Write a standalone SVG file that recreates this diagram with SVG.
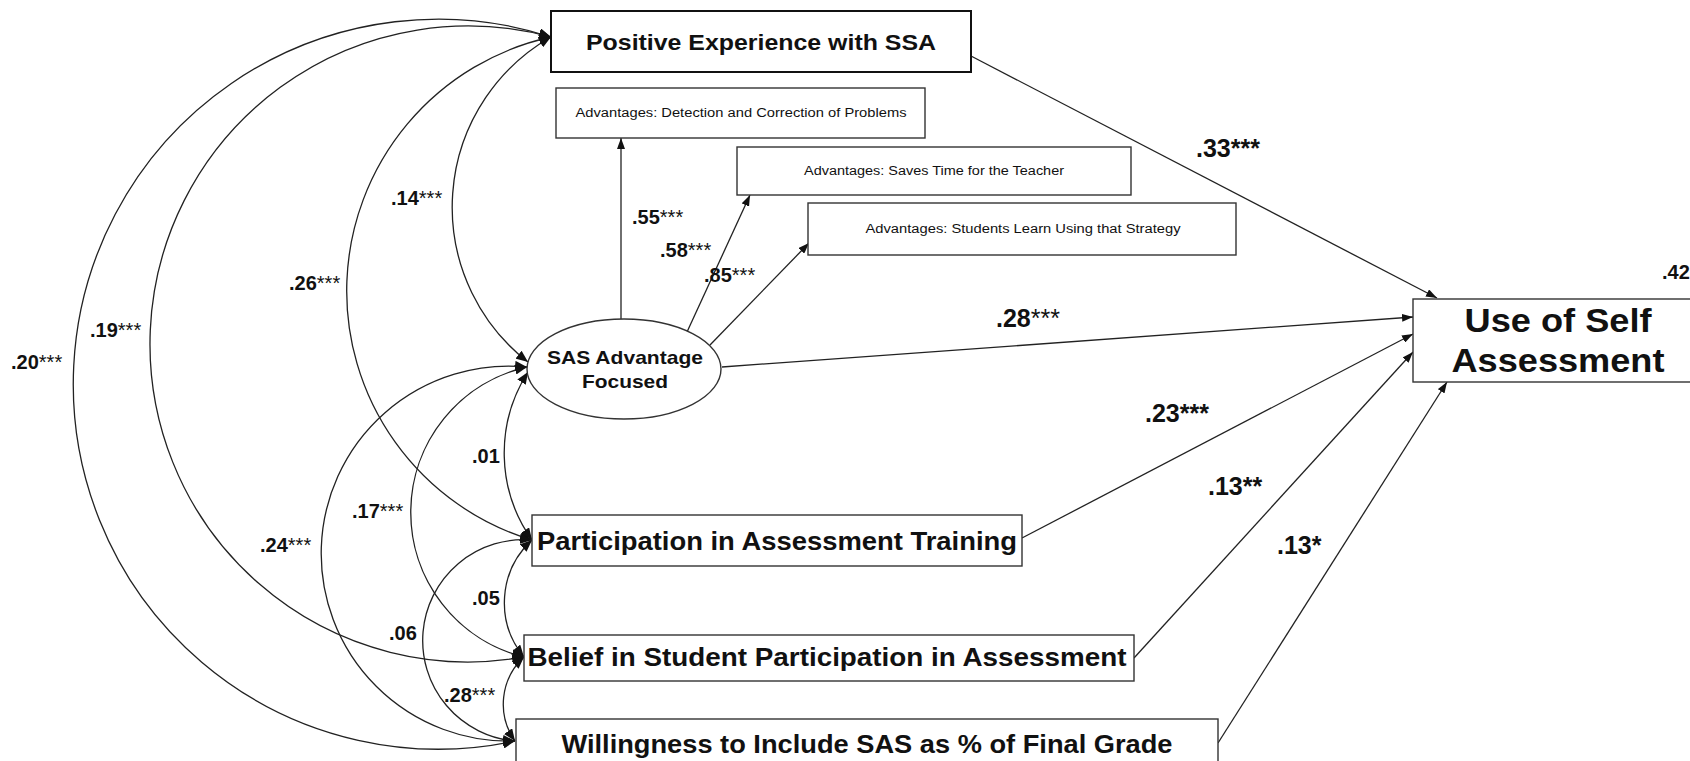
<svg xmlns="http://www.w3.org/2000/svg" width="1690" height="761" viewBox="0 0 1690 761">
<style>
  .box{fill:#fff;stroke:#333;stroke-width:1.4}
  .boxb{fill:#fff;stroke:#111;stroke-width:2}
  .nt{font-family:"Liberation Sans",Arial,sans-serif;font-weight:bold;fill:#111;text-anchor:middle}
  .st{font-family:"Liberation Sans",Arial,sans-serif;font-size:12.5px;fill:#111;text-anchor:middle}
  .lab{font-family:"Liberation Sans",Arial,sans-serif;font-weight:bold;font-size:20px;fill:#111}
  .big{font-family:"Liberation Sans",Arial,sans-serif;font-weight:bold;font-size:25px;fill:#111}
  .star{font-weight:normal}
  .cov{fill:none;stroke:#222;stroke-width:1.3;marker-start:url(#ha);marker-end:url(#ha)}
  .path{fill:none;stroke:#222;stroke-width:1.3;marker-end:url(#hs)}
</style>
<defs>
  <marker id="ha" viewBox="0 0 12 10" refX="12" refY="5" markerWidth="12" markerHeight="10" markerUnits="userSpaceOnUse" orient="auto-start-reverse">
    <path d="M0,0 L12,5 L0,10 z" fill="#111"/>
  </marker>
  <marker id="hs" viewBox="0 0 11 8" refX="11" refY="4" markerWidth="11" markerHeight="8" markerUnits="userSpaceOnUse" orient="auto-start-reverse">
    <path d="M0,0 L11,4 L0,8 z" fill="#111"/>
  </marker>
</defs>
<rect width="1690" height="761" fill="#fff"/>

<g id="connectors">
  <path class="cov" d="M551,37 A196,196 0 0 0 528,362"/>
  <path class="cov" d="M551,37 A260,260 0 0 0 532,540"/>
  <path class="cov" d="M551,37 A318,318 0 1 0 524,657"/>
  <path class="cov" d="M551,37 A365,365 0 1 0 515,741"/>
  <path class="cov" d="M528,372 A150,150 0 0 0 532,540"/>
  <path class="cov" d="M527,367 A149,149 0 0 0 524,657"/>
  <path class="cov" d="M527,367 A187.5,187.5 0 1 0 515,741"/>
  <path class="cov" d="M532,540 A85,85 0 0 0 524,657"/>
  <path class="cov" d="M532,540 A100,100 0 0 0 515,741"/>
  <path class="cov" d="M524,657 A64,64 0 0 0 515,741"/>

  <path class="path" d="M621,319 L621,138"/>
  <path class="path" d="M687,332 L750,195"/>
  <path class="path" d="M710,345 L809,243"/>
  <path class="path" d="M722,367 L1413,317"/>
  <path class="path" d="M971,56 L1437,298"/>
  <path class="path" d="M1022,538 L1413,334"/>
  <path class="path" d="M1134,658 L1413,352"/>
  <path class="path" d="M1218,743 L1447,382"/>
</g>

<g id="positive">
  <rect class="boxb" x="551" y="11" width="420" height="61"/>
  <text class="nt" x="761" y="50" font-size="22" textLength="350" lengthAdjust="spacingAndGlyphs">Positive Experience with SSA</text>
</g>
<g id="adv-detection">
  <rect class="box" x="556" y="88" width="369" height="50"/>
  <text class="st" x="741" y="117" textLength="331" lengthAdjust="spacingAndGlyphs">Advantages: Detection and Correction of Problems</text>
</g>
<g id="adv-saves">
  <rect class="box" x="737" y="147" width="394" height="48"/>
  <text class="st" x="934" y="175" textLength="260" lengthAdjust="spacingAndGlyphs">Advantages:  Saves Time for the Teacher</text>
</g>
<g id="adv-students">
  <rect class="box" x="808" y="203" width="428" height="52"/>
  <text class="st" x="1023" y="233" textLength="315" lengthAdjust="spacingAndGlyphs">Advantages:  Students Learn Using that Strategy</text>
</g>
<g id="sas-advantage">
  <ellipse class="box" cx="624" cy="369" rx="97" ry="50"/>
  <text class="nt" x="625" y="364" font-size="19" textLength="156" lengthAdjust="spacingAndGlyphs">SAS Advantage</text>
  <text class="nt" x="625" y="388" font-size="19" textLength="86" lengthAdjust="spacingAndGlyphs">Focused</text>
</g>
<g id="use-self-assessment">
  <rect class="box" x="1413" y="299" width="295" height="83"/>
  <text class="nt" x="1558" y="332" font-size="34" textLength="187" lengthAdjust="spacingAndGlyphs">Use of Self</text>
  <text class="nt" x="1558" y="372" font-size="34" textLength="213" lengthAdjust="spacingAndGlyphs">Assessment</text>
</g>
<g id="participation">
  <rect class="box" x="532" y="515" width="490" height="51"/>
  <text class="nt" x="777" y="550" font-size="26" textLength="480" lengthAdjust="spacingAndGlyphs">Participation in Assessment Training</text>
</g>
<g id="belief">
  <rect class="box" x="524" y="635" width="610" height="46"/>
  <text class="nt" x="827" y="666" font-size="26" textLength="599" lengthAdjust="spacingAndGlyphs">Belief in Student Participation in Assessment</text>
</g>
<g id="willingness">
  <rect class="box" x="516" y="719" width="702" height="60"/>
  <text class="nt" x="867" y="753" font-size="26" textLength="611" lengthAdjust="spacingAndGlyphs">Willingness to Include SAS as % of Final Grade</text>
</g>

<g id="labels">
  <text class="lab" x="391" y="205">.14<tspan class="star">***</tspan></text>
  <text class="lab" x="289" y="290">.26<tspan class="star">***</tspan></text>
  <text class="lab" x="90" y="337">.19<tspan class="star">***</tspan></text>
  <text class="lab" x="11" y="369">.20<tspan class="star">***</tspan></text>
  <text class="lab" x="632" y="224">.55<tspan class="star">***</tspan></text>
  <text class="lab" x="660" y="257">.58<tspan class="star">***</tspan></text>
  <text class="lab" x="704" y="282">.85<tspan class="star">***</tspan></text>
  <text class="lab" x="472" y="463">.01</text>
  <text class="lab" x="352" y="518">.17<tspan class="star">***</tspan></text>
  <text class="lab" x="260" y="552">.24<tspan class="star">***</tspan></text>
  <text class="lab" x="472" y="605">.05</text>
  <text class="lab" x="389" y="640">.06</text>
  <text class="lab" x="444" y="702">.28<tspan class="star">***</tspan></text>
  <text class="big" x="996" y="327">.28<tspan class="star">***</tspan></text>
  <text class="big" x="1196" y="157">.33***</text>
  <text class="big" x="1145" y="422">.23***</text>
  <text class="big" x="1208" y="495">.13**</text>
  <text class="big" x="1277" y="554">.13*</text>
  <text class="lab" x="1662" y="279" font-size="17">.42</text>
</g>
</svg>
